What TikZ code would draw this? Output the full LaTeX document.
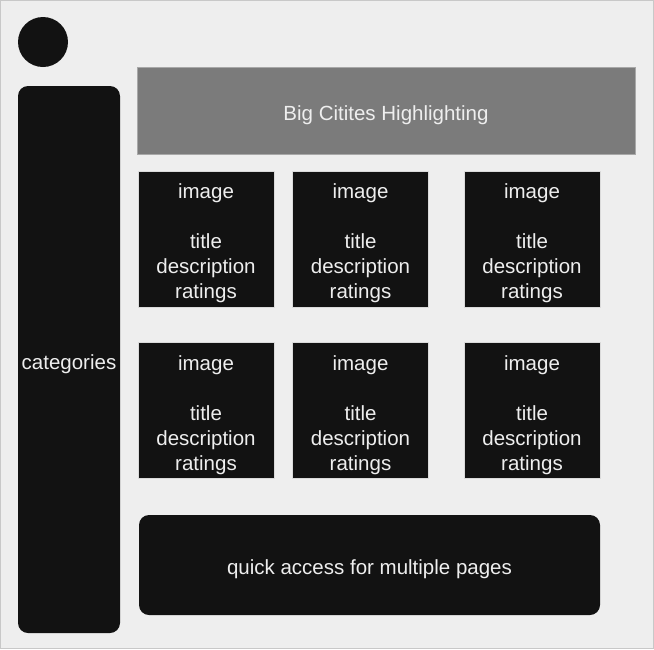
\documentclass[tikz,border=0pt]{standalone}
\usepackage{fontspec}
\setmainfont{Liberation Sans}
\usetikzlibrary{positioning}

\definecolor{pagebg}{HTML}{EEEEEE}
\definecolor{pageedge}{HTML}{C8C8C8}
\definecolor{blockfill}{HTML}{121212}
\definecolor{bannerfill}{HTML}{7B7B7B}
\definecolor{banneredge}{HTML}{A8A8A8}
\definecolor{cardedge}{HTML}{DADADA}
\definecolor{lighttext}{HTML}{EEEEEE}

\begin{document}
\begin{tikzpicture}[
        x=1pt, y=-1pt,
        blocktext/.style={text=lighttext, font=\fontsize{20.5}{25}\selectfont, align=center, inner sep=0pt, yshift=-4.5pt},
        block/.style={fill=blockfill, draw=none, inner sep=0pt},
        roundblock/.style={block, rounded corners=10pt},
        card/.style={block, draw=cardedge, line width=0.8pt, minimum width=136pt, minimum height=136pt,
            label={[blocktext]center:image\\[25pt]title\\description\\ratings}},
        banner/.style={block, fill=bannerfill, draw=banneredge, line width=1pt, minimum width=498pt, minimum height=87pt},
        avatar/.style={circle, fill=blockfill, minimum size=50pt, inner sep=0pt}
    ]

    % Page
    \useasboundingbox (0,0) rectangle (654,649);
    \draw[fill=pagebg, draw=pageedge, line width=1pt] (0.5,0.5) rectangle (653.5,648.5);

    % Side bar
    \node[avatar] (avatar) at (43,42) {};
    \node[roundblock, minimum width=102pt, minimum height=547pt,
        label={[blocktext]center:categories}] (categories) at (69,359.5) {};

    % Banner
    \node[banner, label={[blocktext]center:Big Citites Highlighting}] (banner) at (386,111) {};

    % Cards, first row
    \node[card] (card11) at (206,239) {};
    \node[card] (card12) at (360.5,239) {};
    \node[card] (card13) at (532,239) {};

    % Cards, second row
    \node[card] (card21) at (206,410.5) {};
    \node[card] (card22) at (360.5,410.5) {};
    \node[card] (card23) at (532,410.5) {};

    % Pages
    \node[roundblock, minimum width=461pt, minimum height=100pt,
        label={[blocktext]center:quick access for multiple pages}] (pages) at (369.5,565) {};

\end{tikzpicture}
\end{document}
